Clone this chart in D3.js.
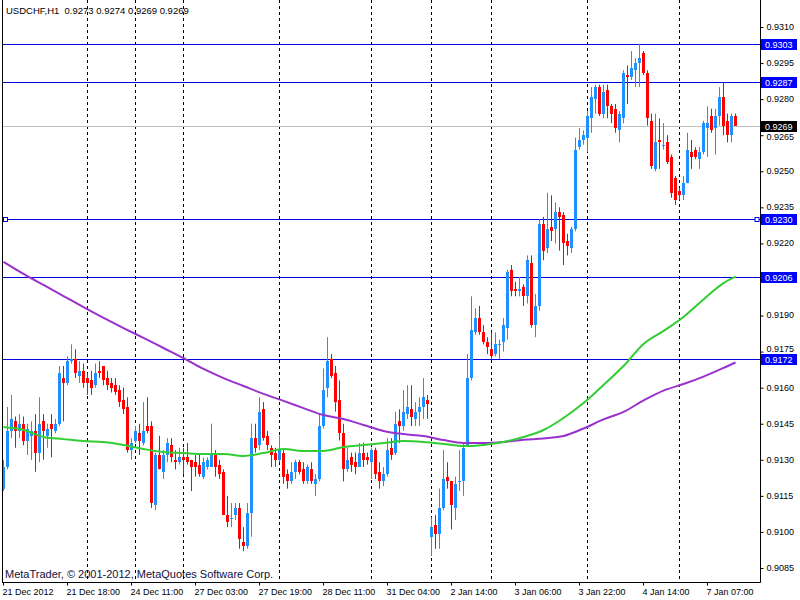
<!DOCTYPE html>
<html><head><meta charset="utf-8">
<script src="https://cdn.jsdelivr.net/npm/d3@7"></script>
<style>
body{margin:0;background:#fff;}
svg{display:block;font-family:"Liberation Sans",Arial,sans-serif;}
</style>
</head><body>
<svg id="chart" width="800" height="600"></svg>
<script>
// ---- data (USDCHF, H1) ----
const symbolName = "USDCHF,H1";
const opens = [
0.9118,0.9127,0.9142,0.9146,0.9142,0.9145,0.9138,0.9140,0.9142,0.9133,
0.9146,0.9140,0.9145,0.9142,0.9145,0.9164,0.9162,0.9171,0.9172,0.9165,
0.9167,0.9164,0.9163,0.9161,0.9167,0.9169,0.9164,0.9162,0.9161,0.9159,
0.9155,0.9152,0.9134,0.9138,0.9141,0.9137,0.9144,0.9144,0.9111,0.9132,
0.9125,0.9132,0.9136,0.9130,0.9129,0.9131,0.9131,0.9130,0.9129,0.9128,
0.9123,0.9127,0.9127,0.9133,0.9128,0.9125,0.9107,0.9106,0.9107,0.9110,
0.9096,0.9094,0.9108,0.9139,0.9136,0.9151,0.9140,0.9135,0.9133,0.9130,
0.9133,0.9124,0.9121,0.9125,0.9129,0.9126,0.9121,0.9126,0.9120,0.9122,
0.9144,0.9160,0.9172,0.9166,0.9155,0.9141,0.9126,0.9131,0.9129,0.9127,
0.9133,0.9131,0.9129,0.9134,0.9125,0.9121,0.9124,0.9135,0.9133,0.9146,
0.9144,0.9149,0.9151,0.9147,0.9150,0.9152,0.9155,0.9098,0.9103,0.9099,
0.9110,0.9123,0.9121,0.9110,0.9121,0.9121,0.9136,0.9164,0.9183,0.9189,
0.9183,0.9179,0.9176,0.9174,0.9178,0.9179,0.9185,0.9209,0.9201,0.9200,
0.9202,0.9198,0.9212,0.9186,0.9194,0.9228,0.9218,0.9227,0.9226,0.9233,
0.9232,0.9221,0.9218,0.9226,0.9260,0.9263,0.9264,0.9272,0.9280,0.9285,
0.9274,0.9284,0.9277,0.9276,0.9267,0.9272,0.9290,0.9289,0.9292,0.9295,
0.9299,0.9291,0.9271,0.9251,0.9263,0.9261,0.9262,0.9256,0.9247,0.9242,
0.9240,0.9245,0.9258,0.9259,0.9255,0.9258,0.9268,0.9273,0.9268,0.9273,
0.9281,0.9271,0.9265,0.9273];
const highs = [
0.9130,0.9152,0.9157,0.9148,0.9149,0.9148,0.9145,0.9146,0.9149,0.9156,
0.9149,0.9145,0.9149,0.9147,0.9169,0.9169,0.9173,0.9178,0.9176,0.9171,
0.9170,0.9166,0.9167,0.9170,0.9171,0.9169,0.9167,0.9164,0.9164,0.9161,
0.9160,0.9156,0.9139,0.9144,0.9145,0.9154,0.9156,0.9146,0.9133,0.9140,
0.9134,0.9139,0.9139,0.9134,0.9135,0.9135,0.9137,0.9130,0.9132,0.9132,
0.9131,0.9131,0.9145,0.9134,0.9130,0.9126,0.9115,0.9112,0.9112,0.9112,
0.9102,0.9112,0.9145,0.9145,0.9156,0.9154,0.9142,0.9136,0.9135,0.9140,
0.9134,0.9126,0.9129,0.9130,0.9130,0.9129,0.9128,0.9129,0.9124,0.9149,
0.9168,0.9181,0.9174,0.9169,0.9163,0.9145,0.9135,0.9133,0.9133,0.9137,
0.9137,0.9133,0.9135,0.9135,0.9129,0.9127,0.9139,0.9139,0.9150,0.9151,
0.9159,0.9161,0.9161,0.9154,0.9156,0.9164,0.9157,0.9106,0.9107,0.9118,
0.9134,0.9129,0.9121,0.9123,0.9134,0.9137,0.9174,0.9198,0.9193,0.9194,
0.9186,0.9181,0.9183,0.9183,0.9180,0.9189,0.9209,0.9211,0.9204,0.9206,
0.9203,0.9215,0.9215,0.9199,0.9230,0.9231,0.9241,0.9240,0.9237,0.9235,
0.9233,0.9224,0.9227,0.9264,0.9268,0.9267,0.9275,0.9285,0.9286,0.9286,
0.9286,0.9286,0.9278,0.9278,0.9275,0.9292,0.9294,0.9300,0.9297,0.9303,
0.9300,0.9292,0.9274,0.9274,0.9272,0.9270,0.9265,0.9257,0.9248,0.9243,
0.9248,0.9266,0.9263,0.9260,0.9260,0.9271,0.9277,0.9276,0.9276,0.9285,
0.9287,0.9274,0.9274,0.9274];
const lows = [
0.9117,0.9126,0.9139,0.9135,0.9139,0.9136,0.9132,0.9130,0.9125,0.9129,
0.9130,0.9135,0.9131,0.9141,0.9144,0.9146,0.9161,0.9170,0.9164,0.9162,
0.9160,0.9157,0.9157,0.9160,0.9164,0.9161,0.9159,0.9158,0.9157,0.9152,
0.9149,0.9133,0.9130,0.9137,0.9132,0.9136,0.9141,0.9110,0.9109,0.9126,
0.9122,0.9129,0.9129,0.9126,0.9128,0.9124,0.9128,0.9117,0.9123,0.9123,
0.9122,0.9126,0.9127,0.9123,0.9122,0.9107,0.9102,0.9102,0.9105,0.9093,
0.9092,0.9093,0.9098,0.9133,0.9134,0.9138,0.9134,0.9127,0.9127,0.9129,
0.9120,0.9118,0.9120,0.9122,0.9124,0.9120,0.9120,0.9120,0.9115,0.9121,
0.9143,0.9156,0.9164,0.9150,0.9138,0.9121,0.9125,0.9125,0.9124,0.9127,
0.9127,0.9128,0.9122,0.9122,0.9118,0.9119,0.9123,0.9130,0.9132,0.9137,
0.9142,0.9147,0.9144,0.9144,0.9144,0.9147,0.9147,0.9090,0.9093,0.9093,
0.9109,0.9118,0.9101,0.9105,0.9117,0.9115,0.9136,0.9163,0.9182,0.9182,
0.9178,0.9174,0.9172,0.9173,0.9172,0.9175,0.9180,0.9198,0.9198,0.9198,
0.9194,0.9195,0.9185,0.9181,0.9192,0.9213,0.9216,0.9221,0.9220,0.9217,
0.9211,0.9215,0.9216,0.9225,0.9259,0.9261,0.9258,0.9266,0.9274,0.9273,
0.9272,0.9272,0.9270,0.9266,0.9262,0.9270,0.9278,0.9288,0.9285,0.9285,
0.9290,0.9269,0.9251,0.9250,0.9251,0.9259,0.9253,0.9239,0.9236,0.9238,
0.9238,0.9245,0.9251,0.9255,0.9251,0.9257,0.9256,0.9266,0.9257,0.9269,
0.9265,0.9262,0.9262,0.9269];
const closes = [
0.9127,0.9142,0.9147,0.9142,0.9145,0.9138,0.9143,0.9142,0.9133,0.9145,
0.9142,0.9143,0.9143,0.9145,0.9166,0.9162,0.9171,0.9172,0.9166,0.9167,
0.9162,0.9162,0.9160,0.9166,0.9166,0.9163,0.9161,0.9160,0.9158,0.9154,
0.9151,0.9134,0.9137,0.9142,0.9138,0.9142,0.9142,0.9112,0.9132,0.9126,
0.9132,0.9137,0.9131,0.9129,0.9131,0.9130,0.9129,0.9127,0.9127,0.9124,
0.9129,0.9130,0.9132,0.9127,0.9124,0.9107,0.9104,0.9106,0.9110,0.9097,
0.9094,0.9108,0.9139,0.9135,0.9150,0.9139,0.9136,0.9132,0.9130,0.9134,
0.9123,0.9121,0.9125,0.9129,0.9125,0.9121,0.9127,0.9121,0.9122,0.9144,
0.9159,0.9171,0.9165,0.9154,0.9141,0.9126,0.9130,0.9128,0.9127,0.9133,
0.9130,0.9130,0.9134,0.9124,0.9121,0.9124,0.9134,0.9132,0.9145,0.9144,
0.9150,0.9152,0.9148,0.9150,0.9152,0.9156,0.9153,0.9102,0.9099,0.9110,
0.9122,0.9121,0.9111,0.9120,0.9121,0.9135,0.9164,0.9184,0.9189,0.9183,
0.9179,0.9177,0.9173,0.9178,0.9178,0.9186,0.9208,0.9200,0.9200,0.9201,
0.9198,0.9213,0.9186,0.9194,0.9228,0.9217,0.9226,0.9225,0.9233,0.9231,
0.9220,0.9219,0.9226,0.9259,0.9263,0.9265,0.9273,0.9281,0.9285,0.9274,
0.9283,0.9277,0.9274,0.9268,0.9274,0.9291,0.9289,0.9293,0.9295,0.9297,
0.9291,0.9272,0.9252,0.9262,0.9262,0.9261,0.9254,0.9241,0.9238,0.9240,
0.9245,0.9259,0.9256,0.9256,0.9258,0.9270,0.9270,0.9267,0.9273,0.9281,
0.9269,0.9265,0.9273,0.9269];

// moving averages sampled at bar indices
const maIndex = [0,5,10,15,20,25,30,35,40,45,50,55,60,65,70,75,80,85,90,95,100,105,110,115,120,125,130,135,140,145,150,155,160,165,170,175,180,183];
const maSlow = [0.92123,0.92073,0.92027,0.91981,0.91935,0.91890,0.91848,0.91807,0.91765,0.91723,
0.91678,0.91640,0.91607,0.91574,0.91545,0.91515,0.91486,0.91470,0.91445,0.91420,
0.91407,0.91399,0.91382,0.91370,0.91370,0.91374,0.91383,0.91389,0.91399,0.91430,
0.91468,0.91499,0.91547,0.91588,0.91615,0.91646,0.91682,0.91705];
const maFast = [0.91436,0.91424,0.91395,0.91386,0.91378,0.91374,0.91362,0.91345,0.91332,0.91328,
0.91324,0.91324,0.91316,0.91328,0.91345,0.91337,0.91337,0.91353,0.91362,0.91370,
0.91378,0.91374,0.91366,0.91357,0.91362,0.91374,0.91395,0.91424,0.91474,0.91536,
0.91611,0.91690,0.91782,0.91836,0.91894,0.91967,0.92035,0.92062];

const timeTickIndex = [0,16,32,48,64,80,96,112,128,144,160,176];
const timeTickLabels = ["21 Dec 2012","21 Dec 18:00","24 Dec 11:00","27 Dec 03:00","27 Dec 19:00","28 Dec 11:00","31 Dec 04:00","2 Jan 14:00","3 Jan 06:00","3 Jan 22:00","4 Jan 14:00","7 Jan 07:00"];
const priceTicks = [0.9310,0.9295,0.9280,0.9265,0.9250,0.9235,0.9220,0.9205,0.9190,0.9175,0.9160,0.9145,0.9130,0.9115,0.9100,0.9085];
const gridIndex = [21,33,45,69,92,107,122,146,169];
const levelLines = [0.9303,0.9287,0.9230,0.9206,0.9172];
const selectedLevel = 0.9230;
const bidPrice = 0.9269;
const footerText = "MetaTrader, \u00A9 2001-2012, MetaQuotes Software Corp.";

// ---- drawing ----
const W = 800, H = 600;
const plotLeft = 2.5, plotRight = 760.5, plotBottom = 582.5;
const svg = d3.select("#chart");
const fmt = d3.format(".4f");
const n = opens.length;
const x = d3.scaleLinear().domain([0, n - 1]).range([3.5, 3.5 + 4 * (n - 1)]);
const y = d3.scaleLinear().domain([0.9085, 0.9310]).range([568, 27]);
const crispY = v => Math.round(y(v)) + 0.5;

svg.append("rect").attr("width", W).attr("height", H).attr("fill", "#fff");

// header & footer texts
const last = n - 1;
svg.append("text").attr("x", 6).attr("y", 13.5)
  .style("white-space", "pre").attr("font-size", 9.5).attr("fill", "#000")
  .text(`${symbolName}  ${fmt(opens[last])} ${fmt(highs[last])} ${fmt(lows[last])} ${fmt(closes[last])}`);
svg.append("text").attr("x", 5).attr("y", 577.5)
  .attr("font-size", 11).attr("fill", "#101040").text(footerText);

// vertical dashed grid
svg.append("g").selectAll("line").data(gridIndex).join("line")
  .attr("x1", d => x(d)).attr("x2", d => x(d))
  .attr("y1", 0).attr("y2", plotBottom)
  .attr("stroke", "#000").attr("stroke-width", 1).attr("stroke-dasharray", "3,3");

// bid line
svg.append("line").attr("x1", plotLeft).attr("x2", plotRight)
  .attr("y1", crispY(bidPrice)).attr("y2", crispY(bidPrice))
  .attr("stroke", "#c0c0c0").attr("stroke-width", 1);

// horizontal level lines
svg.append("g").selectAll("line").data(levelLines).join("line")
  .attr("x1", plotLeft).attr("x2", plotRight)
  .attr("y1", d => crispY(d)).attr("y2", d => crispY(d))
  .attr("stroke", "#0000e0").attr("stroke-width", 1);

// candles
const bars = d3.range(n);
const bullC = "#1e90ff", bearC = "#ff0000";
const col = i => closes[i] < opens[i] ? bearC : bullC;
const cg = svg.append("g");
cg.selectAll("line").data(bars).join("line")
  .attr("x1", i => x(i)).attr("x2", i => x(i))
  .attr("y1", i => y(highs[i])).attr("y2", i => y(lows[i]))
  .attr("stroke", col).attr("stroke-width", 1);
cg.selectAll("rect").data(bars).join("rect")
  .attr("x", i => x(i) - 1.5).attr("width", 3)
  .attr("y", i => Math.round(y(Math.max(opens[i], closes[i]))))
  .attr("height", i => Math.max(1, Math.round(y(Math.min(opens[i], closes[i]))) - Math.round(y(Math.max(opens[i], closes[i])))))
  .attr("fill", col).attr("shape-rendering", "crispEdges");

// moving averages
const line = d3.line().x(d => x(d[0])).y(d => y(d[1])).curve(d3.curveMonotoneX);
svg.append("path").datum(maIndex.map((d, k) => [d, maSlow[k]]))
  .attr("d", line).attr("fill", "none").attr("stroke", "#9932cc").attr("stroke-width", 2);
svg.append("path").datum(maIndex.map((d, k) => [d, maFast[k]]))
  .attr("d", line).attr("fill", "none").attr("stroke", "#32cd32").attr("stroke-width", 2);

// selected-object handles
[5.5, 757].forEach(hx => {
  svg.append("rect").attr("x", hx - 2).attr("y", crispY(selectedLevel) - 2)
    .attr("width", 4).attr("height", 4).attr("fill", "#fff")
    .attr("stroke", "#0000e0").attr("stroke-width", 1);
});

// frame
svg.append("line").attr("x1", plotLeft).attr("x2", plotLeft).attr("y1", 0).attr("y2", plotBottom).attr("stroke", "#000");
svg.append("line").attr("x1", plotRight).attr("x2", plotRight).attr("y1", 0).attr("y2", plotBottom).attr("stroke", "#000");
svg.append("line").attr("x1", 2).attr("x2", plotRight).attr("y1", plotBottom).attr("y2", plotBottom).attr("stroke", "#000");

// price label boxes data
const boxes = levelLines.map(v => ({v, fill: "#0000ff"})).concat([{v: bidPrice, fill: "#000"}]);
const boxY = boxes.map(b => crispY(b.v));

// right price axis: labels hidden behind a box are skipped, near ones nudged clear
const visibleTicks = priceTicks.filter(t => !boxY.some(by => Math.abs(y(t) - by) < 4.5));
const nudge = t => {
  const yt = y(t);
  for (const by of boxY) {
    const d = yt - by;
    if (Math.abs(d) < 11) return d < 0 ? (by - 10.5) - yt : (by + 11) - yt;
  }
  return 0;
};
const yAxis = d3.axisRight(y).tickValues(visibleTicks).tickFormat(fmt)
  .tickSize(3).tickSizeOuter(0).tickPadding(3).offset(0);
const ya = svg.append("g").attr("transform", `translate(${plotRight},0)`).call(yAxis);
ya.select(".domain").remove();
ya.selectAll(".tick line").attr("transform", "translate(0,0.5)");
ya.selectAll(".tick text").attr("font-size", 9).attr("font-family", "Liberation Sans, Arial, sans-serif").attr("fill", "#000")
  .attr("y", d => nudge(d));

// bottom time axis
const xAxis = d3.axisBottom(x).tickValues(timeTickIndex).tickFormat((d, i) => timeTickLabels[i])
  .tickSize(3).tickSizeOuter(0).tickPadding(3).offset(0);
const xa = svg.append("g").attr("transform", `translate(0,${plotBottom})`).call(xAxis);
xa.select(".domain").remove();
xa.selectAll("text").attr("text-anchor", "start").attr("x", -1)
  .attr("font-size", 9).attr("font-family", "Liberation Sans, Arial, sans-serif").attr("fill", "#000");

// price label boxes
const bg = svg.append("g").selectAll("g").data(boxes).join("g")
  .attr("transform", d => `translate(761,${crispY(d.v)})`);
bg.append("rect").attr("x", 0).attr("y", -5.5).attr("width", 36).attr("height", 11).attr("fill", d => d.fill);
bg.append("text").attr("x", 4).attr("y", 0).attr("dy", "0.35em")
  .attr("font-size", 9).attr("fill", "#fff").text(d => fmt(d.v));
</script>
</body></html>
